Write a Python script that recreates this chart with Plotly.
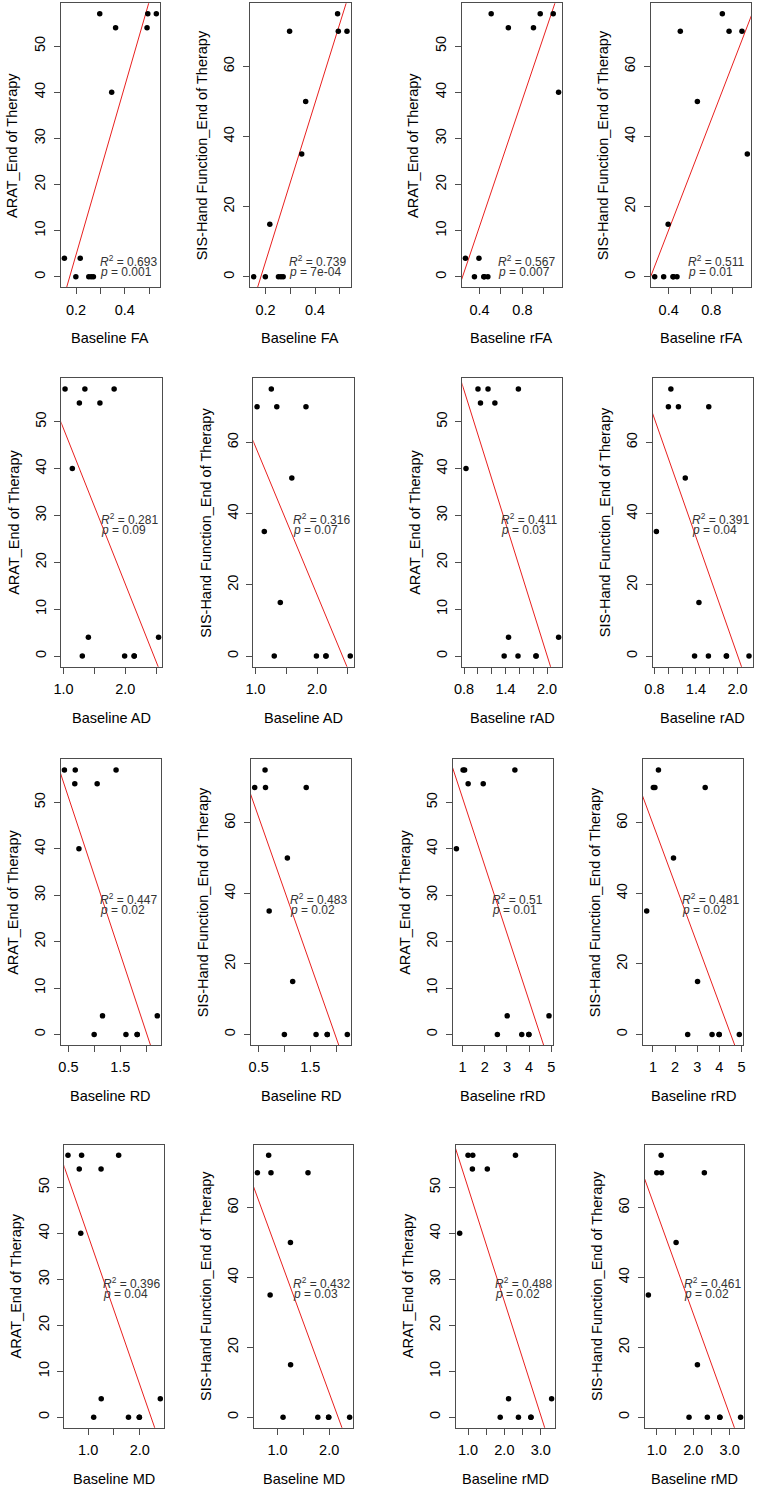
import numpy as np
import plotly.graph_objects as go

# ---------------- data (12 subjects) ----------------
ARAT = [4, 0, 4, 0, 0, 0, 57, 40, 54, 54, 57, 57]
SIS = [0, 0, 15, 0, 0, 0, 70, 35, 50, 75, 70, 70]

FA = [0.152, 0.199, 0.217, 0.252, 0.262, 0.271, 0.297, 0.346, 0.362, 0.491, 0.494, 0.529]
rFA = [0.269, 0.353, 0.395, 0.440, 0.445, 0.478, 0.509, 1.137, 0.669, 0.903, 0.966, 1.087]
AD = [2.540, 1.305, 1.403, 1.990, 2.145, 2.145, 1.025, 1.143, 1.590, 1.257, 1.346, 1.820]
rAD = [2.166, 1.380, 1.443, 1.580, 1.840, 1.840, 1.002, 0.829, 1.246, 1.038, 1.147, 1.585]
RD = [2.215, 0.997, 1.158, 1.610, 1.827, 1.827, 0.423, 0.703, 1.055, 0.623, 0.632, 1.420]
rRD = [4.900, 2.570, 3.015, 3.670, 3.990, 3.990, 1.020, 0.720, 1.930, 1.250, 1.090, 3.360]
MD = [2.396, 1.107, 1.253, 1.780, 1.990, 1.990, 0.610, 0.857, 1.250, 0.828, 0.873, 1.590]
rMD = [3.300, 1.885, 2.115, 2.387, 2.730, 2.730, 1.000, 0.770, 1.530, 1.120, 1.130, 2.305]

measures = ["FA", "rFA", "AD", "rAD", "RD", "rRD", "MD", "rMD"]
measure_values = [FA, rFA, AD, rAD, RD, rRD, MD, rMD]

# tick values / labels per measure (R pretty ticks, some labels dropped)
x_tickvals = [
    [0.2, 0.3, 0.4, 0.5],
    [0.4, 0.6, 0.8, 1.0],
    [1.0, 1.5, 2.0, 2.5],
    [0.8, 1.0, 1.2, 1.4, 1.6, 1.8, 2.0],
    [0.5, 1.0, 1.5, 2.0],
    [1, 2, 3, 4, 5],
    [1.0, 1.5, 2.0],
    [1.0, 1.5, 2.0, 2.5, 3.0],
]
x_ticktext = [
    ["0.2", " ", "0.4", " "],
    ["0.4", " ", "0.8", " "],
    ["1.0", " ", "2.0", " "],
    ["0.8", " ", " ", "1.4", " ", " ", "2.0"],
    ["0.5", " ", "1.5", " "],
    ["1", "2", "3", "4", "5"],
    ["1.0", " ", "2.0"],
    ["1.0", " ", "2.0", " ", "3.0"],
]
ARAT_ticks = [0, 10, 20, 30, 40, 50]
SIS_ticks = [0, 20, 40, 60]

outcome_titles = ["ARAT_End of Therapy", "SIS-Hand Function_End of Therapy"]

R2_ARAT = ["0.693", "0.567", "0.281", "0.411", "0.447", "0.51", "0.396", "0.488"]
p_ARAT = ["0.001", "0.007", "0.09", "0.03", "0.02", "0.01", "0.04", "0.02"]
R2_SIS = ["0.739", "0.511", "0.316", "0.391", "0.483", "0.481", "0.432", "0.461"]
p_SIS = ["7e-04", "0.01", "0.07", "0.04", "0.02", "0.02", "0.03", "0.02"]

# ---------------- layout geometry (pixels) ----------------
W, H = 757, 1487
row_tb = [(3.3, 287.3), (378.3, 666.7), (759.3, 1045.0), (1144.7, 1427.7)]
col_lr = [
    [(60.7, 160.0), (250.0, 350.7), (461.7, 562.3), (651.0, 751.0)],
    [(61.3, 162.3), (253.3, 354.0), (462.3, 562.3), (652.7, 752.7)],
    [(60.7, 161.0), (251.0, 351.0), (452.7, 552.7), (643.0, 743.0)],
    [(64.3, 164.0), (253.7, 353.3), (456.0, 555.3), (644.7, 744.3)],
]
row1_text_left = [0.373, 0.364, 0.345, 0.347]

FONT = "Liberation Sans, Arial, sans-serif"
FRAME = "#4d4d4d"

fig = go.Figure()
layout = dict(
    width=W, height=H, margin=dict(l=0, r=0, t=0, b=0, autoexpand=False),
    paper_bgcolor="white", plot_bgcolor="white", showlegend=False,
    font=dict(family=FONT, size=14.5, color="black"),
)
annotations = []

n = 0
for r in range(4):
    for c in range(4):
        n += 1
        mi = r * 2 + (c // 2)
        oi = c % 2
        xv = np.array(measure_values[mi], dtype=float)
        yv = np.array(ARAT if oi == 0 else SIS, dtype=float)
        sfx = "" if n == 1 else str(n)

        # R-style axis ranges (data range +/- 4%)
        xr = xv.max() - xv.min()
        xrange_ = [xv.min() - 0.04 * xr, xv.max() + 0.04 * xr]
        yr = yv.max() - yv.min()
        yrange_ = [yv.min() - 0.04 * yr, yv.max() + 0.04 * yr]

        # least-squares fit line (abline)
        slope, icpt = np.polyfit(xv, yv, 1)
        lx = np.array([xrange_[0] - xr, xrange_[1] + xr])
        ly = icpt + slope * lx

        fig.add_trace(go.Scatter(x=lx, y=ly, mode="lines",
                                 line=dict(color="#e8201f", width=1),
                                 xaxis="x" + sfx, yaxis="y" + sfx, hoverinfo="skip"))
        fig.add_trace(go.Scatter(x=xv, y=yv, mode="markers",
                                 marker=dict(color="black", size=5.5),
                                 xaxis="x" + sfx, yaxis="y" + sfx))

        top, bot = row_tb[r]
        lft, rgt = col_lr[r][c]
        common = dict(showline=True, mirror=True, linecolor=FRAME, linewidth=1,
                      ticks="outside", ticklen=6, tickcolor=FRAME, tickwidth=1,
                      showgrid=False, zeroline=False, automargin=False,
                      tickfont=dict(family=FONT, size=14.5, color="black"))
        layout["xaxis" + sfx] = dict(
            domain=[lft / W, rgt / W], anchor="y" + sfx, range=xrange_,
            tickmode="array", tickvals=x_tickvals[mi], ticktext=x_ticktext[mi],
            tickangle=0, ticklabelstandoff=3, **common)
        yt = ARAT_ticks if oi == 0 else SIS_ticks
        layout["yaxis" + sfx] = dict(
            domain=[1 - bot / H, 1 - top / H], anchor="x" + sfx, range=yrange_,
            tickmode="array", tickvals=yt, ticktext=[str(v) for v in yt],
            tickangle=-90, ticklabelstandoff=3, **common)

        xd = ("x" + sfx) + " domain"
        yd = ("y" + sfx) + " domain"
        # axis titles
        annotations.append(dict(text="Baseline " + measures[mi], xref=xd, yref=yd,
                                x=0.5, y=0, xanchor="center", yanchor="middle",
                                yshift=-51, showarrow=False,
                                font=dict(family=FONT, size=14.5, color="black")))
        annotations.append(dict(text=outcome_titles[oi], xref=xd, yref=yd,
                                x=0, y=0.5, xanchor="center", yanchor="middle",
                                xshift=-48, textangle=-90, showarrow=False,
                                font=dict(family=FONT, size=14.5, color="black")))
        # R^2 / p legend
        r2 = (R2_ARAT if oi == 0 else R2_SIS)[mi]
        pv = (p_ARAT if oi == 0 else p_SIS)[mi]
        if r == 0:
            tx, y1, y2 = row1_text_left[c], 0.093, 0.055
        else:
            tx, y1, y2 = 0.37, 0.512, 0.474
        tfont = dict(family=FONT, size=12, color="#333333")
        annotations.append(dict(text="<i>R</i><sup>2</sup> = " + r2, xref=xd, yref=yd,
                                x=tx, y=y1, xanchor="left", yanchor="middle",
                                showarrow=False, font=tfont))
        annotations.append(dict(text="<i>p</i> = " + pv, xref=xd, yref=yd,
                                x=tx, y=y2, xanchor="left", yanchor="middle",
                                showarrow=False, font=tfont))

layout["annotations"] = annotations
fig.update_layout(**layout)
fig.write_html("out.html",
               config={"displayModeBar": False},
               post_script="document.body.style.margin='0';document.body.style.overflow='hidden';")
